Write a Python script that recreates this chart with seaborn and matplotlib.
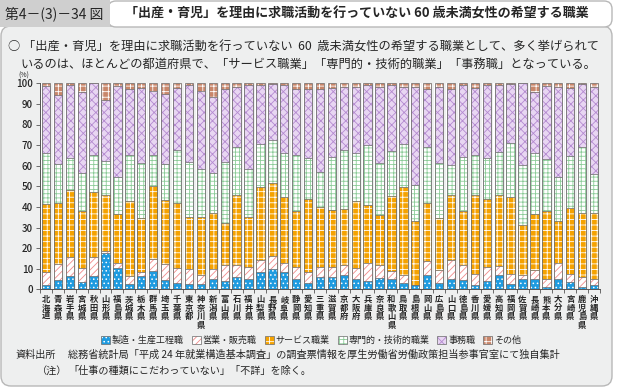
import numpy as np
import pandas as pd
import seaborn as sns
import matplotlib.pyplot as plt
from matplotlib.patches import Patch, Rectangle, FancyBboxPatch

# data (% of respondents)
prefs = ["北海道", "青森県", "岩手県", "宮城県", "秋田県", "山形県", "福島県", "茨城県",
         "栃木県", "群馬県", "埼玉県", "千葉県", "東京都", "神奈川県", "新潟県", "富山県",
         "石川県", "福井県", "山梨県", "長野県", "岐阜県", "静岡県", "愛知県", "三重県",
         "滋賀県", "京都府", "大阪府", "兵庫県", "奈良県", "和歌山県", "鳥取県", "島根県",
         "岡山県", "広島県", "山口県", "徳島県", "香川県", "愛媛県", "高知県", "福岡県",
         "佐賀県", "長崎県", "熊本県", "大分県", "宮崎県", "鹿児島県", "沖縄県"]
manuf = [2.0, 4.5, 6.5, 3.5, 6.3, 17.5, 10.5, 2.5, 6.3, 8.7, 4.5, 3.3, 2.5, 2.5, 5.2, 4.2,
         5.8, 4.9, 8.3, 9.7, 8.4, 4.9, 2.9, 5.8, 6.1, 6.8, 5.2, 3.9, 5.3, 5.2, 3.2, 1.9,
         6.8, 2.9, 5.2, 4.5, 1.9, 4.2, 6.8, 2.6, 4.9, 4.9, 1.0, 4.9, 3.6, 1.0, 2.3]
sales = [6.3, 8.0, 9.0, 7.0, 9.2, 1.2, 2.5, 4.0, 2.2, 5.8, 8.0, 7.2, 7.5, 4.5, 4.8, 7.8,
         6.2, 5.8, 5.7, 6.3, 4.2, 5.8, 5.5, 5.2, 4.6, 4.8, 5.2, 9.1, 6.3, 3.5, 3.6, 0.4,
         7.1, 6.5, 9.0, 7.2, 5.5, 6.5, 4.5, 4.8, 2.2, 4.5, 3.9, 7.7, 3.8, 5.1, 2.6]
service = [33.2, 29.5, 32.5, 27.5, 31.5, 27.0, 23.5, 36.5, 26.0, 35.8, 31.0, 31.5, 25.3, 28.0,
           27.2, 20.0, 34.0, 24.3, 35.5, 35.5, 32.1, 27.5, 35.3, 28.8, 27.8, 27.2, 32.6, 28.0,
           24.4, 36.6, 42.7, 31.0, 28.1, 25.1, 31.8, 26.2, 38.2, 33.0, 34.5, 37.3, 24.3, 27.2,
           33.3, 20.4, 31.9, 30.8, 32.3]
prof = [24.8, 19.0, 15.5, 18.5, 18.0, 16.6, 18.0, 22.3, 27.0, 15.0, 17.5, 25.7, 26.7, 23.5,
        19.1, 30.0, 23.3, 23.3, 21.0, 20.8, 21.3, 26.8, 20.1, 17.0, 25.5, 28.8, 23.0, 29.0,
        25.2, 21.9, 21.0, 17.2, 27.0, 26.7, 14.2, 26.1, 19.4, 20.1, 20.9, 26.2, 28.8, 29.4,
        24.9, 21.4, 25.4, 32.4, 18.8]
clerical = [32.2, 33.5, 35.5, 39.5, 35.0, 29.7, 44.0, 31.7, 36.2, 31.0, 34.0, 29.8, 37.2, 37.7,
            36.9, 35.0, 28.7, 40.7, 28.5, 27.4, 33.0, 32.3, 33.2, 40.6, 33.6, 30.4, 32.0, 29.0,
            36.8, 31.8, 27.5, 47.5, 28.0, 36.8, 36.8, 35.0, 32.7, 35.2, 32.3, 28.8, 39.8, 30.0,
            35.6, 43.6, 33.0, 30.2, 42.4]
other = [1.5, 5.5, 1.0, 4.0, 0.0, 8.0, 1.5, 3.0, 2.3, 3.7, 5.0, 2.5, 0.8, 3.8, 6.8, 3.0,
         2.0, 1.0, 1.0, 0.3, 1.0, 2.7, 3.0, 2.6, 2.4, 2.0, 2.0, 1.0, 2.0, 1.0, 2.0, 2.0,
         3.0, 2.0, 3.0, 1.0, 2.3, 1.0, 1.0, 0.3, 0.0, 4.0, 1.3, 2.0, 2.3, 0.5, 1.6]

cats = ["製造・生産工程職", "営業・販売職", "サービス職業", "専門的・技術的職業", "事務職", "その他"]

df = pd.DataFrame({"pref": prefs, cats[0]: manuf, cats[1]: sales, cats[2]: service,
                   cats[3]: prof, cats[4]: clerical, cats[5]: other})
cum = df[cats].cumsum(axis=1)
cum["pref"] = df["pref"]

# face colour, hatch colour, hatch
styles = {
    cats[0]: ("#1e9be0", "white", "...."),
    cats[1]: ("white", "#f08a8a", "/////"),
    cats[2]: ("#f5a200", "white", "+++"),
    cats[3]: ("white", "#8ccc98", "++++"),
    cats[4]: ("#e8d6f2", "#b48ad0", "xxxx"),
    cats[5]: ("#c8866a", "white", "+++"),
}

sns.set_style("white")
plt.rcParams["font.family"] = ["Noto Sans CJK JP", "DejaVu Sans"]
plt.rcParams["hatch.linewidth"] = 0.6

W, H = 621, 389
fig = plt.figure(figsize=(W / 100, H / 100), dpi=100)
fig.patch.set_facecolor("white")
bg = "#eeefef"


def fx(x):
    return x / W


def fy(y):
    return 1 - y / H


# panel + title bar (pixel coords)
fig.add_artist(FancyBboxPatch((1, H - 386), 611, 360, boxstyle="round,pad=0,rounding_size=10",
                              facecolor=bg, edgecolor="#b8b8b8", lw=1, transform=None, zorder=0))
fig.add_artist(FancyBboxPatch((108, H - 27), 504, 26, boxstyle="round,pad=0,rounding_size=8",
                              facecolor="white", edgecolor="#b8b8b8", lw=1, transform=None, zorder=0))
fig.add_artist(Rectangle((0, H - 27), 110, 27, facecolor="#cfcfcf", edgecolor="none",
                         transform=None, zorder=0))

fig.text(fx(5), fy(13.5), "第4－(3)－34 図", fontsize=10, va="center", ha="left")
fig.text(fx(125), fy(13.5), "「出産・育児」を理由に求職活動を行っていない 60 歳未満女性の希望する職業",
         fontsize=9.4, fontweight="bold", va="center", ha="left")
fig.text(fx(8), fy(47.5), "○ 「出産・育児」を理由に求職活動を行っていない  60  歳未満女性の希望する職業として、多く挙げられて",
         fontsize=8.8, va="center", ha="left")
fig.text(fx(20), fy(64), "いるのは、ほとんどの都道府県で、「サービス職業」「専門的・技術的職業」「事務職」となっている。",
         fontsize=8.8, va="center", ha="left")
fig.text(fx(18), fy(75.5), "(%)", fontsize=5, va="center", ha="left")
fig.text(fx(15), fy(355), "資料出所", fontsize=7.3, va="center", ha="left")
fig.text(fx(68), fy(355), "総務省統計局「平成 24 年就業構造基本調査」の調査票情報を厚生労働省労働政策担当参事官室にて独自集計",
         fontsize=7.3, va="center", ha="left")
fig.text(fx(37), fy(371), "（注）", fontsize=7.3, va="center", ha="left")
fig.text(fx(68), fy(371), "「仕事の種類にこだわっていない」「不詳」を除く。",
         fontsize=7.3, va="center", ha="left")

ax = fig.add_axes([fx(40), fy(289.3), fx(600) - fx(40), (289.3 - 83.3) / H])
ax.set_facecolor(bg)

for i in range(len(prefs)):
    ax.axvspan(i - 0.44, i + 0.44, color="white", lw=0, zorder=0)


def set_hatch_color(p, c):
    try:
        p.set_hatchcolor(c)
    except AttributeError:
        p._hatch_color = plt.matplotlib.colors.to_rgba(c)


# stacked bars: draw cumulative totals from the top down
for cat in reversed(cats):
    face, hc, h = styles[cat]
    n0 = len(ax.patches)
    sns.barplot(data=cum, x="pref", y=cat, color=face, saturation=1, width=0.7,
                errorbar=None, ax=ax, zorder=2)
    for p in ax.patches[n0:]:
        p.set_hatch(h)
        p.set_edgecolor("#6a6a6a")
        p.set_linewidth(0.5)
        set_hatch_color(p, hc)

ax.set_xlim(-0.45, 46.5)
ax.set_ylim(0, 100)
ax.set_yticks(range(0, 101, 10))
ax.tick_params(axis="y", labelsize=7, length=3, width=0.6, color="#555555", pad=2, left=True)
for t in ax.get_yticklabels():
    t.set_fontweight("medium")
ax.set_xticks(range(len(prefs)))
ax.set_xticklabels(["\n".join(p) for p in prefs], fontsize=6, fontweight="bold",
                   linespacing=0.95, va="top")
ax.tick_params(axis="x", length=0, pad=4)
ax.set_xticks(np.arange(-0.5, len(prefs), 1), minor=True)
ax.tick_params(axis="x", which="minor", length=3, width=0.6, color="#555555", bottom=True)
ax.set_xlabel("")
ax.set_ylabel("")
for s in ["top", "right"]:
    ax.spines[s].set_visible(False)
for s in ["left", "bottom"]:
    ax.spines[s].set_color("#555555")
    ax.spines[s].set_linewidth(0.7)

handles = []
for cat in cats:
    face, hc, h = styles[cat]
    hp = Patch(facecolor=face, edgecolor="#6a6a6a", lw=0.5, hatch=h)
    set_hatch_color(hp, hc)
    handles.append(hp)
fig.legend(handles, cats, loc="center", bbox_to_anchor=(fx(311), fy(340)), ncol=6,
           frameon=False, fontsize=6.5, handlelength=1.0, handleheight=1.0,
           handletextpad=0.2, columnspacing=0.9, borderpad=0)

fig.savefig("out.png", dpi=100)
